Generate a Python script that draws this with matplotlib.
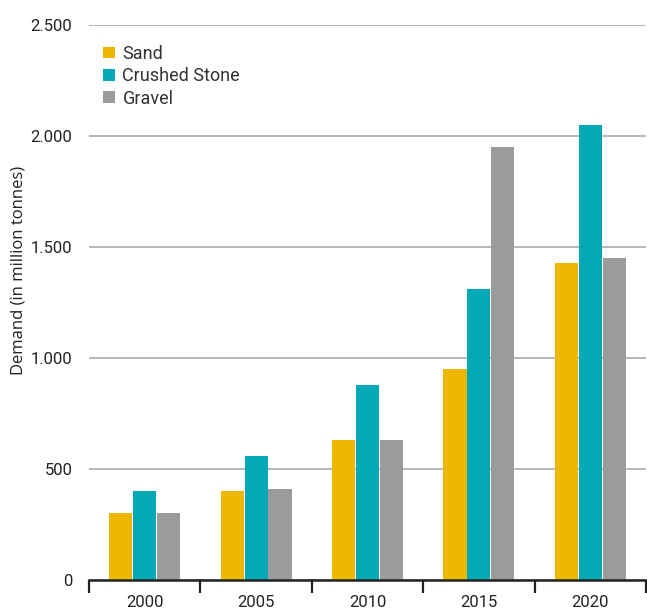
import matplotlib
matplotlib.use("Agg")
import matplotlib.pyplot as plt
import numpy as np
from matplotlib.patches import Patch
from matplotlib.ticker import FuncFormatter

plt.rcParams['font.family'] = ['Roboto', 'DejaVu Sans']

years = ["2000", "2005", "2010", "2015", "2020"]
series_names = ["Sand", "Crushed Stone", "Gravel"]
sand = [300, 400, 630, 950, 1430]
crushed = [400, 560, 880, 1310, 2050]
gravel = [300, 410, 630, 1950, 1450]
colors = ["#EEB700", "#00A9B5", "#9B9B9B"]
yticks = [0, 500, 1000, 1500, 2000, 2500]

fig = plt.figure(figsize=(6.47, 6.10), dpi=100)
ax = fig.add_axes([89/647, 1-580/610, (646-89)/647, (580-25)/610])

x = np.arange(len(years))
w = 0.208
step = 0.215
for i, (vals, c) in enumerate(zip([sand, crushed, gravel], colors)):
    ax.bar(x + (i-1)*step, vals, width=w, color=c, zorder=3)

ax.set_xlim(-0.5, len(years)-0.5)
ax.set_ylim(0, 2500)
ax.set_yticks(yticks)
ax.yaxis.set_major_formatter(FuncFormatter(lambda v, p: f"{int(v):,}".replace(",", ".")))
ax.tick_params(axis='y', length=0, pad=12, labelsize=12, labelcolor="#222222")
ax.grid(axis='y', color="#AAAAAA", linewidth=1.2, zorder=0)

ax.set_xticks(np.arange(len(years)+1)-0.5)
ax.set_xticklabels([])
ax.set_xticks(x, minor=True)
ax.set_xticklabels(years, minor=True)
ax.tick_params(axis='x', which='major', length=9, width=1.6, color="#222222", direction='out')
ax.tick_params(axis='x', which='minor', length=0, pad=11, labelsize=12, labelcolor="#222222")

for s in ['top', 'right', 'left']:
    ax.spines[s].set_visible(False)
ax.spines['bottom'].set_linewidth(1.8)
ax.spines['bottom'].set_color("#222222")
ax.spines['bottom'].set_zorder(4)

ax.set_ylabel("Demand (in million tonnes)", fontsize=12, color="#222222",
              family=['Open Sans', 'DejaVu Sans'])
ax.yaxis.set_label_coords((27-89)/557, 0.558)

handles = [Patch(facecolor=c, edgecolor='none') for c in colors]
leg = ax.legend(handles, series_names, loc='upper left', bbox_to_anchor=(0.003, 0.987),
                frameon=False, fontsize=13, handlelength=0.64, handleheight=0.64,
                handletextpad=0.42, labelspacing=0.24, borderaxespad=0.3)
for t in leg.get_texts():
    t.set_color("#333333")

fig.savefig("out.png", dpi=100)
